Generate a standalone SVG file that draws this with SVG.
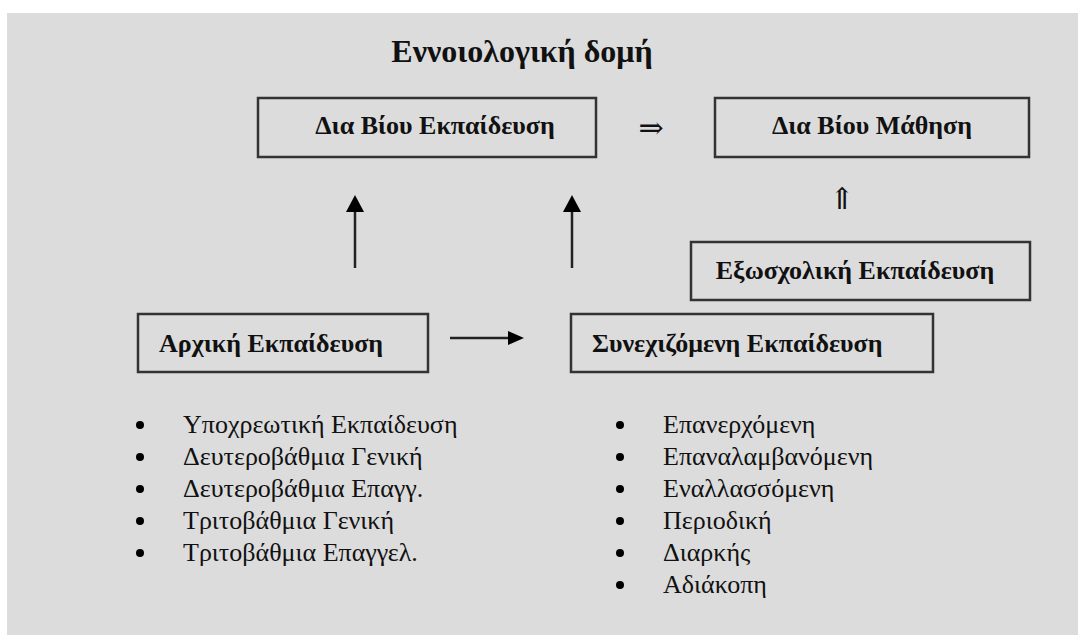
<svg xmlns="http://www.w3.org/2000/svg" width="1078" height="635" viewBox="0 0 1078 635">
<style>
.box{fill:none;stroke:#333;stroke-width:2.5}
.bt{font-family:"Liberation Serif",serif;font-weight:bold;font-size:26px;fill:#111}
.lt{font-family:"Liberation Serif",serif;font-size:26px;fill:#111}
.ln{stroke:#222;stroke-width:2.5;fill:none}
.sym{font-family:"DejaVu Serif","DejaVu Sans",serif;font-size:30px;fill:#111}
</style>
<rect x="0" y="0" width="1078" height="635" fill="#ffffff"/>
<rect x="7" y="13" width="1071" height="622" fill="#dcdcdc"/>
<text x="522" y="62" text-anchor="middle" font-family="Liberation Serif, serif" font-weight="bold" font-size="32" fill="#111">Εννοιολογική δομή</text>
<g id="node-dia-viou-ekpaideusi"><rect class="box" x="258" y="98" width="338" height="59"/><text class="bt" x="435" y="134" text-anchor="middle">Δια Βίου Εκπαίδευση</text></g>
<g id="node-dia-viou-mathisi"><rect class="box" x="715" y="98" width="314" height="59"/><text class="bt" x="872" y="134" text-anchor="middle">Δια Βίου Μάθηση</text></g>
<g id="node-exoscholiki"><rect class="box" x="691" y="242" width="339" height="58"/><text class="bt" x="855" y="279" text-anchor="middle">Εξωσχολική Εκπαίδευση</text></g>
<g id="node-archiki"><rect class="box" x="138" y="314" width="290" height="58"/><text class="bt" x="159" y="352">Αρχική Εκπαίδευση</text></g>
<g id="node-synechizomeni"><rect class="box" x="571" y="314" width="362" height="58"/><text class="bt" x="592" y="352">Συνεχιζόμενη Εκπαίδευση</text></g>
<g id="connectors">
<line class="ln" x1="355" y1="268" x2="355" y2="210"/>
<path d="M346,212 L355,195 L364,212 z" fill="#000"/>
<line class="ln" x1="572" y1="268" x2="572" y2="210"/>
<path d="M563,212 L572,195 L581,212 z" fill="#000"/>
<line class="ln" x1="450" y1="338" x2="510" y2="338"/>
<path d="M508,331 L524,338 L508,345 z" fill="#000"/>
<text class="sym" x="651" y="138" text-anchor="middle">⇒</text>
<text class="sym" x="842" y="209" text-anchor="middle">⇑</text>
</g>
<g id="list-left">
<circle cx="140" cy="425" r="4" fill="#000"/><text class="lt" x="183" y="433">Υποχρεωτική Εκπαίδευση</text>
<circle cx="140" cy="457" r="4" fill="#000"/><text class="lt" x="183" y="465">Δευτεροβάθμια Γενική</text>
<circle cx="140" cy="489" r="4" fill="#000"/><text class="lt" x="183" y="497">Δευτεροβάθμια Επαγγ.</text>
<circle cx="140" cy="521" r="4" fill="#000"/><text class="lt" x="183" y="529">Τριτοβάθμια Γενική</text>
<circle cx="140" cy="553" r="4" fill="#000"/><text class="lt" x="183" y="561">Τριτοβάθμια Επαγγελ.</text>
</g>
<g id="list-right">
<circle cx="620" cy="425" r="4" fill="#000"/><text class="lt" x="663" y="433">Επανερχόμενη</text>
<circle cx="620" cy="457" r="4" fill="#000"/><text class="lt" x="663" y="465">Επαναλαμβανόμενη</text>
<circle cx="620" cy="489" r="4" fill="#000"/><text class="lt" x="663" y="497">Εναλλασσόμενη</text>
<circle cx="620" cy="521" r="4" fill="#000"/><text class="lt" x="663" y="529">Περιοδική</text>
<circle cx="620" cy="553" r="4" fill="#000"/><text class="lt" x="663" y="561">Διαρκής</text>
<circle cx="620" cy="585" r="4" fill="#000"/><text class="lt" x="663" y="593">Αδιάκοπη</text>
</g>
</svg>
